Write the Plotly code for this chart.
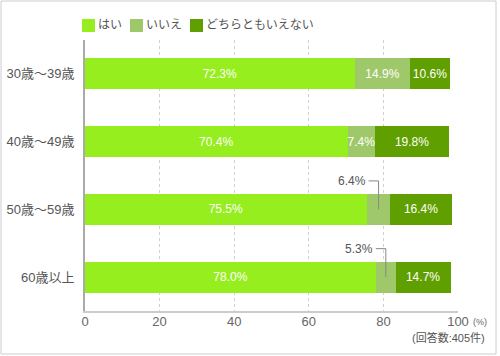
import plotly.graph_objects as go

categories = ["30歳〜39歳", "40歳〜49歳", "50歳〜59歳", "60歳以上"]
series_names = ["はい", "いいえ", "どちらともいえない"]
yes_vals = [72.3, 70.4, 75.5, 78.0]
no_vals = [14.9, 7.4, 6.4, 5.3]
neither_vals = [10.6, 19.8, 16.4, 14.7]
x_ticks = [0, 20, 40, 60, 80, 100]
note_text = "(回答数:405件)"
unit_text = "(%)"

colors = ["#96EE1E", "#9FC86A", "#5FA000"]
FONT = "Liberation Sans, Arial, Noto Sans CJK JP, sans-serif"

W, H = 500, 356
L, R, T, B = 85, 42, 40, 45
PW, PH = W - L - R, H - T - B


def px(x):
    return (x - L) / PW


def py(y):
    return (H - B - y) / PH


SMALL = 7.0  # segments narrower than this get an outside label

fig = go.Figure()
all_vals = [yes_vals, no_vals, neither_vals]
for name, vals, col in zip(series_names, all_vals, colors):
    texts = ["" if v < SMALL else f"{v:.1f}%" for v in vals]
    fig.add_trace(go.Bar(
        name=name, y=categories, x=vals, orientation="h",
        marker=dict(color=col, line=dict(width=0)),
        text=texts, textposition="inside", insidetextanchor="middle",
        textangle=0, constraintext="none",
        textfont=dict(color="white", size=12, family=FONT),
        hoverinfo="skip", showlegend=False, width=0.46,
    ))

shapes = []
annotations = []

# leader lines for small segments
for i, cat in enumerate(categories):
    for s, vals in enumerate(all_vals):
        v = vals[i]
        if v >= SMALL:
            continue
        start = sum(all_vals[k][i] for k in range(s))
        cx = start + v / 2
        ty = i - 0.42
        line_start = cx - 10 * 100 / PW
        shapes.append(dict(type="path", xref="x", yref="y",
                           path=f"M {line_start},{ty} L {cx},{ty} L {cx},{i}",
                           line=dict(color="#888", width=1)))
        annotations.append(dict(x=line_start, y=ty, xref="x", yref="y",
                                text=f"{v:.1f}%", showarrow=False,
                                xanchor="right", yanchor="middle", xshift=-1,
                                font=dict(size=12, color="#555", family=FONT)))

# custom legend
leg_sq = [82, 130, 190]
for name, col, x0 in zip(series_names, colors, leg_sq):
    shapes.append(dict(type="rect", xref="paper", yref="paper",
                       x0=px(x0), x1=px(x0 + 13), y0=py(32), y1=py(19),
                       fillcolor=col, line=dict(width=0)))
    annotations.append(dict(x=px(x0 + 14), y=py(25.5), xref="paper", yref="paper",
                            text=name, showarrow=False, xanchor="left", yanchor="middle",
                            font=dict(size=12, color="#555", family=FONT)))

# outer border
shapes.append(dict(type="rect", xref="paper", yref="paper",
                   x0=px(1), x1=px(496), y0=py(354), y1=py(1),
                   line=dict(color="#cccccc", width=1), fillcolor="rgba(0,0,0,0)",
                   layer="below"))

annotations.append(dict(x=px(471), y=py(322), xref="paper", yref="paper",
                        text=unit_text, showarrow=False, xanchor="left", yanchor="middle",
                        font=dict(size=9, color="#666", family=FONT)))
annotations.append(dict(x=px(487), y=py(337), xref="paper", yref="paper",
                        text=note_text, showarrow=False, xanchor="right", yanchor="middle",
                        font=dict(size=11, color="#555", family=FONT)))

fig.update_layout(
    barmode="stack",
    width=W, height=H,
    margin=dict(l=L, r=R, t=T, b=B, pad=0, autoexpand=False),
    paper_bgcolor="white", plot_bgcolor="white",
    font=dict(family=FONT, color="#555"),
    shapes=shapes, annotations=annotations,
    xaxis=dict(range=[0, 100], tickvals=x_ticks, showgrid=True, gridcolor="#d0d0d0",
               griddash="dot", gridwidth=1, zeroline=False, showline=True,
               linecolor="#cccccc", linewidth=1.5, automargin=False,
               ticklabelstandoff=-2,
               tickfont=dict(size=13, color="#666", family=FONT), ticks=""),
    yaxis=dict(categoryorder="array", categoryarray=categories, range=[3.5, -0.5],
               showline=True, linecolor="#aaaaaa", linewidth=2, showgrid=False,
               zeroline=False, ticks="", ticklabelstandoff=6, automargin=False,
               tickfont=dict(size=13, color="#555", family=FONT)),
)

fig.write_html("out.html", config={"displayModeBar": False},
               post_script="document.body.style.margin='0';document.body.style.overflow='hidden';")
